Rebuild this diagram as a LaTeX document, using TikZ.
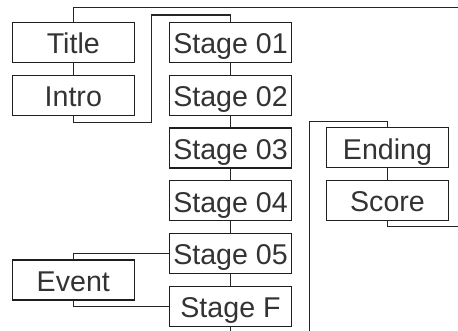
\documentclass[tikz,border=0pt]{standalone}
\usepackage{fontspec}
\newfontfamily\boxfont{Liberation Sans}
\begin{document}
\begin{tikzpicture}[x=1pt,y=-1pt,
  box/.style={draw=black!88, line width=1.2pt, minimum width=122pt, minimum height=40pt,
    inner sep=0pt, text height=23pt, text depth=0pt,
    font=\boxfont\fontsize{28.6}{30}\selectfont, text=black!80},
  link/.style={draw=black!85, line width=1.1pt}]
\useasboundingbox (0,0) rectangle (458,331);
\fill[white] (0,0) rectangle (458,331);

% left column
\node[box] (title) at (73.3,42.5) {Title};
\node[box] (intro) at (73.3,95.3) {Intro};
\node[box] (event) at (73.3,280) {Event};

% stage column
\node[box] (s1) at (230.5,42.5) {Stage 01};
\node[box] (s2) at (230.5,95.3) {Stage 02};
\node[box] (s3) at (230.5,148.1) {Stage 03};
\node[box] (s4) at (230.5,200.9) {Stage 04};
\node[box] (s5) at (230.5,253.5) {Stage 05};
\node[box] (sf) at (230.5,306.3) {Stage F};

% right column
\node[box] (ending) at (387.5,147.9) {Ending};
\node[box] (score) at (387.5,200.5) {Score};

% free ends and bends
\coordinate (topR) at (458,7.3);
\coordinate (j1) at (151.5,122.5);
\coordinate (j2) at (151.5,15);
\coordinate (botA) at (230.5,331);
\coordinate (botB) at (309.5,331);
\coordinate (j3) at (309.5,121.7);
\coordinate (rightE) at (458,226.5);

% connectors
\draw[link] (title.north) |- (topR);
\draw[link] (title.south) -- (intro.north);
\draw[link] (intro.south) |- (j1) -- (j2) -| (s1.north);
\draw[link] (s1.south) -- (s2.north);
\draw[link] (s2.south) -- (s3.north);
\draw[link] (s3.south) -- (s4.north);
\draw[link] (s4.south) -- (s5.north);
\draw[link] (s5.south) -- (sf.north);
\draw[link] (sf.south) -- (botA);
\draw[link] (botB) -- (j3) -| (ending.north);
\draw[link] (ending.south) -- (score.north);
\draw[link] (score.south) |- (rightE);
\draw[link] (event.north) |- (s5.west);
\draw[link] (event.south) |- (sf.west);
\end{tikzpicture}
\end{document}
